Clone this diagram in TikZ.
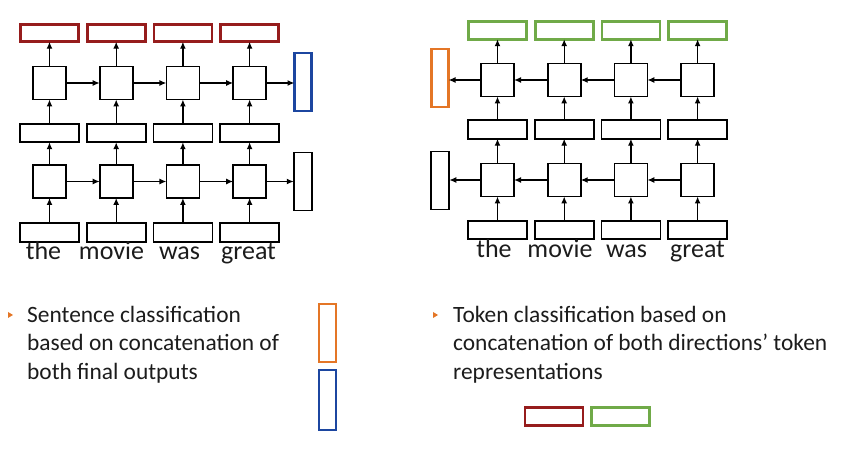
\documentclass[tikz,border=0pt]{standalone}
\usepackage{fontspec}
\setmainfont{Carlito}
\usetikzlibrary{arrows.meta}
\definecolor{rred}{RGB}{150,28,28}
\definecolor{bblue}{RGB}{28,70,160}
\definecolor{oorange}{RGB}{228,118,38}
\definecolor{ggreen}{RGB}{112,170,72}
\definecolor{txt}{RGB}{28,28,28}
\begin{document}
\begin{tikzpicture}[x=1pt,y=-1pt,
  sq/.style={draw=black, line width=1.8pt, minimum width=33pt, minimum height=33pt, inner sep=0, outer sep=0},
  vec/.style={draw=black, line width=1.8pt, minimum width=59pt, minimum height=18.5pt, inner sep=0, outer sep=0},
  cvec/.style={draw=#1, line width=2.6pt, minimum width=58pt, minimum height=17.5pt, inner sep=0, outer sep=0},
  cvvec/.style={draw=#1, line width=2.6pt, minimum width=17pt, minimum height=58pt, inner sep=0, outer sep=0},
  vvec/.style={draw=black, line width=1.8pt, minimum width=18.5pt, minimum height=58pt, inner sep=0, outer sep=0},
  arr/.style={-{Latex[length=7pt,width=6pt]}, line width=1.3pt},
  word/.style={anchor=base, font=\fontsize{26}{30}\selectfont, text=txt, inner sep=0},
  btext/.style={anchor=base west, align=left, font=\fontsize{23.4}{29}\selectfont, text=txt, inner sep=0},
  ]
\useasboundingbox (0,0) rectangle (847,449);
\fill[white] (0,0) rectangle (847,449);

% ---------------- left diagram (forward) ----------------
\foreach \i/\x in {1/49.5,2/116.2,3/182.9,4/249.6}{
  \node[cvec=rred] (lo\i) at (\x,33) {};
  \node[sq] (lu\i) at (\x,83) {};
  \node[vec] (lm\i) at (\x,133) {};
  \node[sq] (ll\i) at (\x,181.5) {};
  \node[vec] (lb\i) at (\x,232.5) {};
  \draw[arr] (lb\i) -- (ll\i);
  \draw[arr] (ll\i) -- (lm\i);
  \draw[arr] (lm\i) -- (lu\i);
  \draw[arr] (lu\i) -- (lo\i);
}
\node[cvvec=bblue] (lfinU) at (303,82) {};
\node[vvec] (lfinL) at (303,181.5) {};
\foreach \a/\b in {1/2,2/3,3/4}{
  \draw[arr] (lu\a) -- (lu\b);
  \draw[arr] (ll\a) -- (ll\b);
}
\draw[arr] (lu4) -- (lu4 -| lfinU.west);
\draw[arr] (ll4) -- (ll4 -| lfinL.west);
\node[word] (lw1) at (43.5,260) {the};
\node[word] (lw2) at (111.5,260) {movie};
\node[word] (lw3) at (179.5,260) {was};
\node[word] (lw4) at (248.5,260) {great};

% ---------------- right diagram (backward) ----------------
\foreach \i/\x in {1/497.5,2/564.2,3/630.9,4/697.6}{
  \node[cvec=ggreen] (ro\i) at (\x,30.5) {};
  \node[sq] (ru\i) at (\x,80) {};
  \node[vec] (rm\i) at (\x,129.5) {};
  \node[sq] (rl\i) at (\x,180) {};
  \node[vec] (rb\i) at (\x,230) {};
  \draw[arr] (rb\i) -- (rl\i);
  \draw[arr] (rl\i) -- (rm\i);
  \draw[arr] (rm\i) -- (ru\i);
  \draw[arr] (ru\i) -- (ro\i);
}
\node[cvvec=oorange] (rfinU) at (440,78) {};
\node[vvec] (rfinL) at (440,180.5) {};
\foreach \a/\b in {4/3,3/2,2/1}{
  \draw[arr] (ru\a) -- (ru\b);
  \draw[arr] (rl\a) -- (rl\b);
}
\draw[arr] (ru1) -- (ru1 -| rfinU.east);
\draw[arr] (rl1) -- (rl1 -| rfinL.east);
\node[word] (rw1) at (494,258) {the};
\node[word] (rw2) at (560,258) {movie};
\node[word] (rw3) at (626.5,258) {was};
\node[word] (rw4) at (697.5,258) {great};

% ---------------- bullets ----------------
\fill[oorange] (8,312) -- (13,315) -- (8,318) -- cycle;
\node[btext] (lt) at (27,380) {Sentence classification\\based on concatenation of\\both final outputs};
\fill[oorange] (433,312) -- (438,315) -- (433,318) -- cycle;
\node[btext] (rt) at (453,380) {Token classification based on\\concatenation of both directions’ token\\representations};

\node[cvvec=oorange] (cO) at (327.5,333) {};
\node[cvvec=bblue, minimum height=60pt] (cB) at (327.5,400) {};
\node[cvec=rred] (cR) at (554,416.5) {};
\node[cvec=ggreen] (cG) at (620.5,416.5) {};
\end{tikzpicture}
\end{document}
